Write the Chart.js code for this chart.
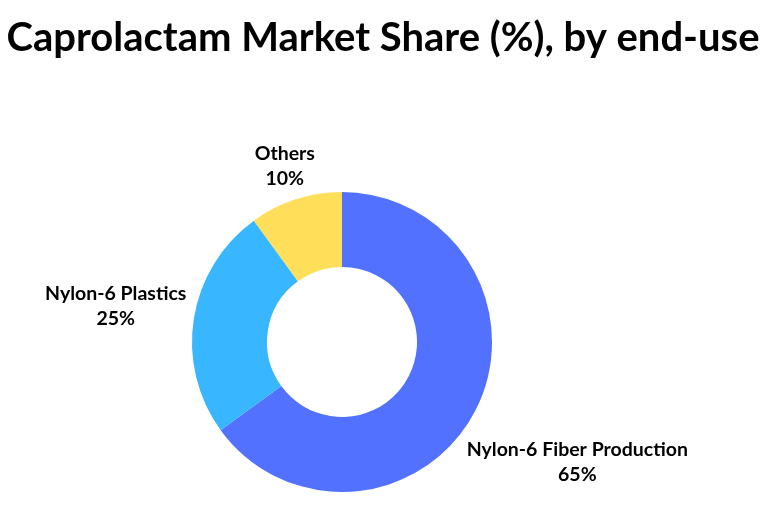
<!DOCTYPE html>
<html>
<head>
<meta charset="utf-8">
<script src="https://cdn.jsdelivr.net/npm/chart.js@4"></script>
<style>
  html, body { margin: 0; padding: 0; background: #fff; }
  #wrap { width: 766px; height: 519px; position: relative; }
</style>
</head>
<body>
<div id="wrap"><canvas id="chart" width="766" height="519"></canvas></div>
<script>
'use strict';
var chartTitle = 'Caprolactam Market Share (%), by end-use';
var categories = ['Nylon-6 Fiber Production', 'Nylon-6 Plastics', 'Others'];
var shares = [65, 25, 10];
var colors = ['#5271FF', '#38B6FF', '#FFDE59'];

var fontFamily = 'Lato, "Open Sans", sans-serif';

// draws the title and the outside labels
var labelPlugin = {
  id: 'outsideLabels',
  afterDraw: function (chart) {
    var ctx = chart.ctx;
    ctx.save();
    ctx.fillStyle = '#000';
    ctx.textAlign = 'center';
    ctx.textBaseline = 'middle';
    ctx.font = 'bold 40px ' + fontFamily;
    ctx.fillText(chartTitle, 383, 38);

    ctx.font = 'bold 19.5px ' + fontFamily;
    var meta = chart.getDatasetMeta(0);
    var lineH = 25;
    for (var i = 0; i < meta.data.length; i++) {
      var arc = meta.data[i];
      var mid = (arc.startAngle + arc.endAngle) / 2;
      var dx = Math.cos(mid);
      var dy = Math.sin(mid);
      var line1 = categories[i];
      var line2 = shares[i] + '%';
      var w = Math.max(ctx.measureText(line1).width, ctx.measureText(line2).width);
      var r = arc.outerRadius + 6 + (w / 2) * Math.abs(dx) + 21 * Math.abs(dy);
      var x = arc.x + dx * r;
      var y = arc.y + dy * r;
      ctx.fillText(line1, x, y - lineH / 2);
      ctx.fillText(line2, x, y + lineH / 2);
    }
    ctx.restore();
  }
};

var ctx = document.getElementById('chart').getContext('2d');
new Chart(ctx, {
  type: 'doughnut',
  data: {
    labels: categories,
    datasets: [{
      data: shares,
      backgroundColor: colors,
      borderWidth: 0
    }]
  },
  options: {
    responsive: false,
    animation: false,
    cutout: '50%',
    layout: { padding: { left: 192, right: 274, top: 192, bottom: 27 } },
    plugins: {
      legend: { display: false },
      title: { display: false },
      tooltip: { enabled: false }
    }
  },
  plugins: [labelPlugin]
});
</script>
</body>
</html>
